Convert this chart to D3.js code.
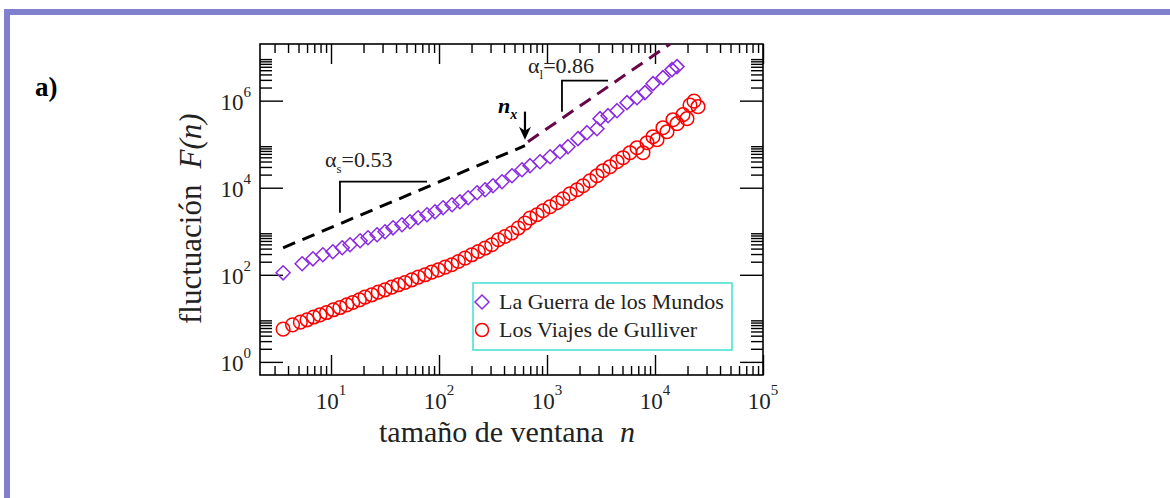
<!DOCTYPE html>
<html>
<head>
<meta charset="utf-8">
<script src="https://cdn.jsdelivr.net/npm/d3@7"></script>
<style>
  body { margin: 0; background: #fff; }
  svg { display: block; font-family: "Liberation Serif", "Times New Roman", serif; }
</style>
</head>
<body>
<svg id="chart" width="1170" height="498"></svg>
<script>
// La Guerra de los Mundos (diamonds)
const guerraN = [3.6, 5.4, 6.8, 8.4, 10.4, 12.7, 15, 18.6, 22, 26.7, 31.6, 37.5, 45.4, 53.8, 64,
  77.4, 91.8, 109, 132, 156, 186, 225, 267, 316, 383, 474, 587, 696, 861, 1067,
  1320, 1564, 1936, 2344, 2901, 3097, 3673, 4446, 5503, 6813, 8072, 9573, 11850, 14360, 15990];
const guerraF = [111, 179, 233, 288, 338, 418, 490, 605, 709, 831, 975, 1200, 1410, 1650, 2040,
  2390, 2810, 3470, 4060, 4760, 5890, 7670, 8990, 11100, 13700, 18900, 25900, 32100, 39600, 51600,
  67300, 87700, 134000, 184000, 227000, 386000, 452000, 589000, 900000, 1170000, 1530000, 2460000, 3380000, 5160000, 6050000];

// Los Viajes de Gulliver (circles)
const gulliverN = [3.6, 4.4, 5.2, 6.0, 6.9, 7.9, 9.1, 10.5, 12.1, 14.0, 15.9, 18.3, 20.6, 23.8, 27.4,
  31.6, 36.5, 42.0, 48.4, 55.9, 64.3, 74.2, 85.5, 98.6, 114, 131, 151, 174, 201, 231,
  267, 308, 354, 408, 471, 542, 625, 696, 808, 918, 1066, 1238, 1406, 1633, 1896,
  2154, 2501, 2904, 3300, 3831, 4448, 5053, 5867, 6812, 7740, 8437, 9580, 10440, 11860, 12910,
  14680, 16000, 18160, 19780, 21080, 22970, 25010];
const gulliverF = [5.65, 7.09, 8.18, 9.24, 10.7, 12.0, 13.6, 15.7, 17.7, 20.4, 23.1, 26.6, 30.7, 34.7, 40.0,
  45.2, 52.1, 58.9, 66.5, 76.7, 88.5, 100, 115, 130, 150, 170, 202, 242, 288, 343,
  411, 490, 638, 759, 909, 1186, 1545, 2012, 2393, 2958, 3656, 4518, 5586, 7279, 8994,
  11120, 14490, 18880, 24600, 30390, 39630, 48950, 63800, 83130, 63800, 108300, 148600, 126800, 239300, 193800,
  365500, 296000, 476800, 385500, 789000, 975000, 727800];

// fitted power laws (short and long scales)
const shortFitN = [3.6, 625];
const shortFitF = [418, 92400];
const longFitN = [667, 13800];
const longFitF = [114000, 2.0e7];

// slope triangles: [vertical bottom, corner, horizontal end]
const shortTriN = [12.1, 12.1, 77.4];
const shortTriF = [2660, 13740, 13740];
const longTriN = [1376, 1376, 3673];
const longTriF = [558000, 2880000, 2880000];

const xTicks = [10, 100, 1000, 1e4, 1e5];
const xTickExp = ["1", "2", "3", "4", "5"];
const yTicks = [1, 1e2, 1e4, 1e6];
const yTickExp = ["0", "2", "4", "6"];
const seriesNames = ["La Guerra de los Mundos", "Los Viajes de Gulliver"];

const svg = d3.select("#chart");
const margin = { top: 44, right: 407, bottom: 123, left: 260 };
const W = 1170, H = 498;

// page frame
svg.append("path")
  .attr("d", `M7,498 V12 H1170`)
  .attr("fill", "none")
  .attr("stroke", "#8080cf")
  .attr("stroke-width", 6);

svg.append("text")
  .attr("x", 35).attr("y", 96)
  .attr("font-size", 27).attr("font-weight", "bold")
  .text("a)");

const x = d3.scaleLog().domain([2.2, 1e5]).range([margin.left, W - margin.right]);
const y = d3.scaleLog().domain([0.5, 2e7]).range([H - margin.bottom, margin.top]);
const x0 = x.range()[0], x1 = x.range()[1], y0 = y.range()[0], y1 = y.range()[1];

svg.append("defs").append("clipPath").attr("id", "plotClip")
  .append("rect").attr("x", x0).attr("y", y1).attr("width", x1 - x0).attr("height", y0 - y1);

/* ticks */
const xMinor = [];
for (let e = 0; e <= 4; e++) for (let k = 2; k <= 9; k++) {
  const v = k * Math.pow(10, e);
  if (v > 2.2 && v < 1e5) xMinor.push(v);
}
const yMinor = [];
[0, 2, 4, 6].forEach(e => { for (let k = 2; k <= 9; k++) yMinor.push(k * Math.pow(10, e)); });

function tickGroup(axis, tx, ty) {
  const g = svg.append("g").attr("transform", `translate(${tx},${ty})`).call(axis);
  g.select(".domain").remove();
  g.selectAll("line").attr("stroke", "#000").attr("stroke-width", 1.4);
  return g;
}
tickGroup(d3.axisBottom(x).tickValues(xMinor).tickSize(-9).tickFormat(""), 0, y0);
tickGroup(d3.axisBottom(x).tickValues(xTicks).tickSize(-20).tickFormat(""), 0, y0);
tickGroup(d3.axisTop(x).tickValues(xMinor).tickSize(-9).tickFormat(""), 0, y1);
tickGroup(d3.axisTop(x).tickValues(xTicks).tickSize(-20).tickFormat(""), 0, y1);
tickGroup(d3.axisLeft(y).tickValues(yMinor).tickSize(-12).tickFormat(""), x0, 0);
tickGroup(d3.axisLeft(y).tickValues(yTicks).tickSize(-23).tickFormat(""), x0, 0);
tickGroup(d3.axisRight(y).tickValues(yMinor).tickSize(-12).tickFormat(""), x1, 0);
tickGroup(d3.axisRight(y).tickValues(yTicks).tickSize(-23).tickFormat(""), x1, 0);

svg.append("rect")
  .attr("x", x0).attr("y", y1).attr("width", x1 - x0).attr("height", y0 - y1)
  .attr("fill", "none").attr("stroke", "#000").attr("stroke-width", 1.6);

/* tick labels */
xTicks.forEach((v, i) => {
  const t = svg.append("text")
    .attr("x", x(v)).attr("y", y0 + 34)
    .attr("text-anchor", "middle").attr("font-size", 23).attr("fill", "#222");
  t.append("tspan").text("10");
  t.append("tspan").attr("dy", -14).attr("font-size", 15).text(xTickExp[i]);
});
yTicks.forEach((v, i) => {
  const t = svg.append("text")
    .attr("x", x0 - 9).attr("y", y(v) + 9)
    .attr("text-anchor", "end").attr("font-size", 23).attr("fill", "#222");
  t.append("tspan").text("10");
  t.append("tspan").attr("dy", -13).attr("font-size", 15).text(yTickExp[i]);
});

/* axis titles */
const xt = svg.append("text")
  .attr("x", 379).attr("y", 442)
  .attr("font-size", 30).attr("fill", "#222");
xt.append("tspan").text("tamaño de ventana");
xt.append("tspan").attr("dx", 16).attr("font-style", "italic").text("n");

const yt = svg.append("text")
  .attr("transform", `translate(201,324) rotate(-90)`)
  .attr("font-size", 31).attr("fill", "#222");
yt.append("tspan").text("fluctuación");
yt.append("tspan").attr("dx", 16).attr("font-style", "italic").text("F(n)");

/* fit lines */
const plot = svg.append("g").attr("clip-path", "url(#plotClip)");
const line = d3.line().x(d => x(d[0])).y(d => y(d[1]));

plot.append("path")
  .datum(shortFitN.map((n, i) => [n, shortFitF[i]]))
  .attr("d", line).attr("fill", "none")
  .attr("stroke", "#000").attr("stroke-width", 3).attr("stroke-dasharray", "13,8");

plot.append("path")
  .datum(longFitN.map((n, i) => [n, longFitF[i]]))
  .attr("d", line).attr("fill", "none")
  .attr("stroke", "#670748").attr("stroke-width", 3).attr("stroke-dasharray", "13,8");

[[shortTriN, shortTriF], [longTriN, longTriF]].forEach(([ns, fs]) => {
  plot.append("path")
    .datum(ns.map((n, i) => [n, fs[i]]))
    .attr("d", line).attr("fill", "none")
    .attr("stroke", "#000").attr("stroke-width", 1.8);
});

/* markers */
const diamond = r => `M0,${-r}L${r},0L0,${r}L${-r},0Z`;

plot.selectAll(".gul")
  .data(gulliverN.map((n, i) => [n, gulliverF[i]]))
  .join("circle")
  .attr("cx", d => x(d[0])).attr("cy", d => y(d[1])).attr("r", 6.8)
  .attr("fill", "none").attr("stroke", "#ff0000").attr("stroke-width", 1.5);

plot.selectAll(".gue")
  .data(guerraN.map((n, i) => [n, guerraF[i]]))
  .join("path")
  .attr("transform", d => `translate(${x(d[0])},${y(d[1])})`)
  .attr("d", diamond(7))
  .attr("fill", "none").attr("stroke", "#8a2be2").attr("stroke-width", 1.5);

/* annotations */
const as = svg.append("text")
  .attr("x", x(8.8)).attr("y", y(30400))
  .attr("font-size", 22).attr("fill", "#222");
as.append("tspan").text("α");
as.append("tspan").attr("dy", 6).attr("font-size", 13).text("s");
as.append("tspan").attr("dy", -6).text("=0.53");

const al = svg.append("text")
  .attr("x", x(667)).attr("y", y(4.4e6))
  .attr("font-size", 22).attr("fill", "#222");
al.append("tspan").text("α");
al.append("tspan").attr("dy", 6).attr("font-size", 13).text("l");
al.append("tspan").attr("dy", -6).text("=0.86");

const nx = svg.append("text")
  .attr("x", x(352)).attr("y", y(5.3e5))
  .attr("font-size", 22).attr("font-weight", "bold").attr("font-style", "italic");
nx.append("tspan").text("n");
nx.append("tspan").attr("dy", 6).attr("font-size", 14).text("x");

const ax = x(625), ayTop = y(5.6e5), ayBot = y(1.27e5);
svg.append("line")
  .attr("x1", ax).attr("x2", ax).attr("y1", ayTop).attr("y2", ayBot - 8)
  .attr("stroke", "#000").attr("stroke-width", 2.2);
svg.append("path")
  .attr("d", `M${ax - 6},${ayBot - 13}L${ax},${ayBot}L${ax + 6},${ayBot - 13}L${ax},${ayBot - 9}Z`)
  .attr("fill", "#000");

/* legend */
const lg = svg.append("g");
lg.append("rect")
  .attr("x", 473).attr("y", 283).attr("width", 259).attr("height", 67)
  .attr("fill", "#fff").attr("stroke", "#40e0d0").attr("stroke-width", 1.5);
lg.append("path")
  .attr("transform", "translate(482,302)")
  .attr("d", diamond(7))
  .attr("fill", "none").attr("stroke", "#8a2be2").attr("stroke-width", 1.5);
lg.append("circle")
  .attr("cx", 482).attr("cy", 330).attr("r", 6.5)
  .attr("fill", "none").attr("stroke", "#ff0000").attr("stroke-width", 1.5);
seriesNames.forEach((name, i) => {
  lg.append("text")
    .attr("x", 499).attr("y", 309 + i * 28)
    .attr("font-size", 22).attr("fill", "#222")
    .text(name);
});
</script>
</body>
</html>
